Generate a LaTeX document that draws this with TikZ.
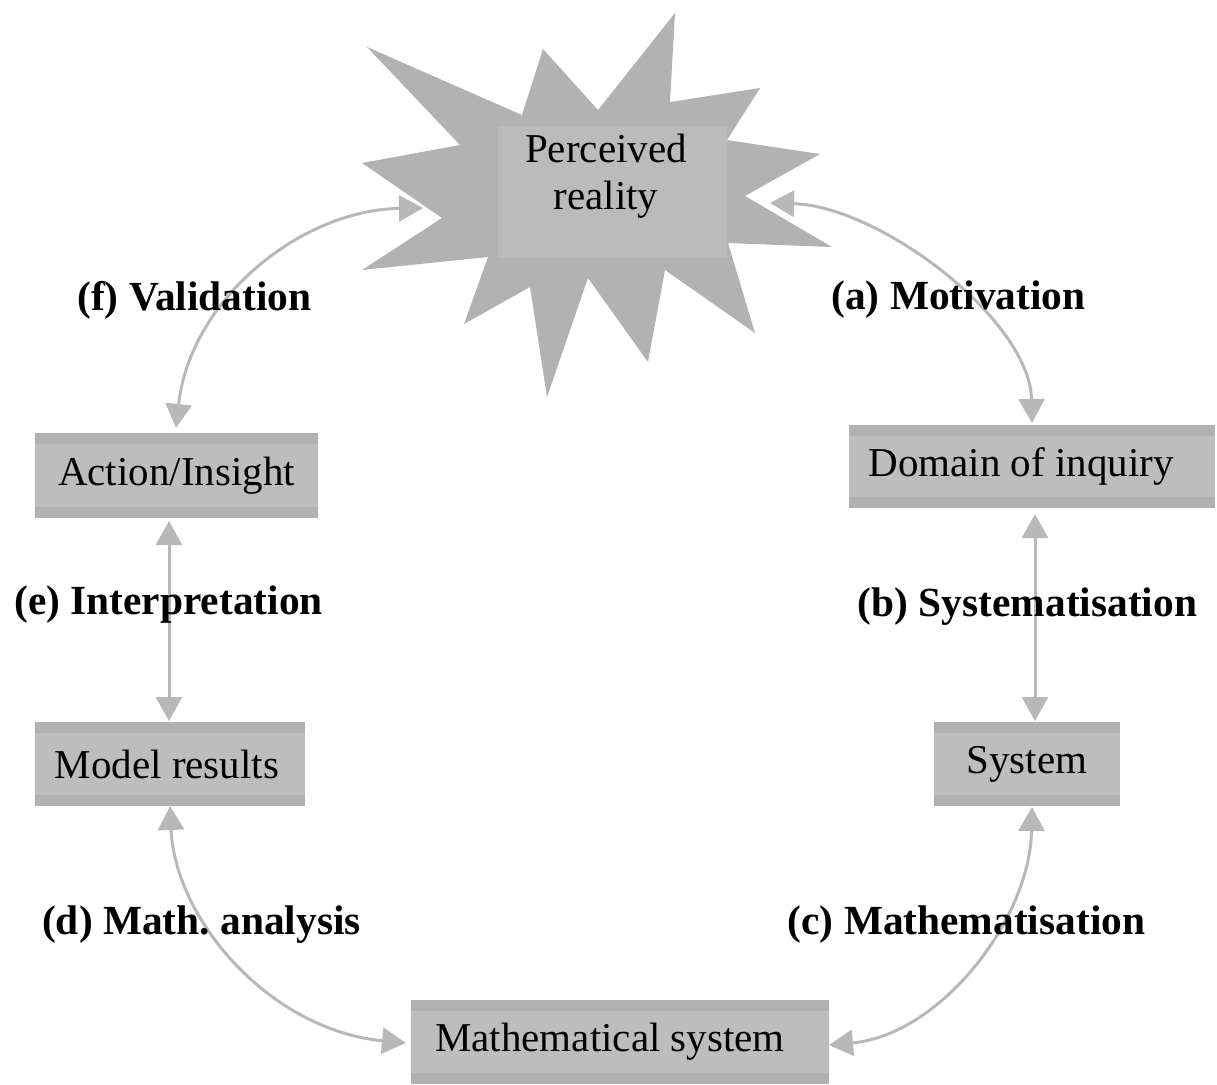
\documentclass[tikz,border=0pt]{standalone}
\usepackage{fontspec}
\setmainfont{Liberation Serif}
\usetikzlibrary{arrows.meta}
\frenchspacing
\definecolor{burst}{HTML}{B2B2B2}
\definecolor{perbox}{HTML}{BBBBBB}
\definecolor{boxmid}{HTML}{BDBDBD}
\definecolor{boxband}{HTML}{B1B1B1}
\definecolor{arrowgray}{HTML}{B8B8B8}
\tikzset{
  boxnode/.style={fill=boxmid, inner sep=0pt, font=\fontsize{20.5}{24}\selectfont,
    path picture={
      \fill[boxband] (path picture bounding box.north west) rectangle ([yshift=-5.5pt]path picture bounding box.north east);
      \fill[boxband] (path picture bounding box.south west) rectangle ([yshift=5.5pt]path picture bounding box.south east);
    }},
  lab/.style={font=\fontsize{20.7}{24}\selectfont\bfseries, inner sep=0pt},
  conn/.style={draw=arrowgray, line width=1.5pt,
    {Triangle[width=13pt,length=12pt]}-{Triangle[width=13pt,length=12pt]}},
}
\begin{document}
\begin{tikzpicture}[x=0.5pt,y=-0.5pt]
\useasboundingbox (0,0) rectangle (1217,1084);

% starburst
\fill[burst] (367,47) -- (460,145) -- (362,163) -- (442,218) -- (362,270) -- (488,257)
  -- (464,324) -- (530,287) -- (547,397) -- (588,278) -- (648,362) -- (665,270)
  -- (755,333) -- (728,243) -- (832,247) -- (745,196) -- (820,154) -- (727,140)
  -- (760,88) -- (670,102) -- (675,13) -- (598,110) -- (543,49) -- (522,115) -- cycle;
\node[fill=perbox, minimum width=114.5pt, minimum height=66pt, inner sep=0pt] (per) at (612.5,192) {};
\node[font=\fontsize{20.5}{23.5}\selectfont, align=center, inner sep=0pt] (pertext) at (606,176) {Perceived\\reality};

% boxes
\node[boxnode, minimum width=141.5pt, minimum height=42.5pt] (act) at (176.5,475.5) {Action/Insight};
\node[boxnode, minimum width=135pt, minimum height=42pt] (mod) at (170,764) {Model results\hspace*{3pt}};
\node[boxnode, minimum width=183pt, minimum height=41.5pt] (dom) at (1032,466.5) {Domain of inquiry\hspace*{11pt}};
\node[boxnode, minimum width=93pt, minimum height=42pt] (sys) at (1027,764) {System};
\node[boxnode, minimum width=209pt, minimum height=42pt] (mat) at (620,1042) {Mathematical system\hspace*{10pt}};

% connector end points
\coordinate (fS) at (423,208);
\coordinate (fE) at (176,428);
\coordinate (aS) at (770,203);
\coordinate (aE) at (1032,423);
\coordinate (bS) at (1035,514);
\coordinate (bE) at (1035,721);
\coordinate (cS) at (1032,807);
\coordinate (cE) at (829,1045);
\coordinate (dS) at (170,806);
\coordinate (dE) at (406,1043);
\coordinate (eS) at (169,521);
\coordinate (eE) at (169,721);

\draw[conn] (fS) .. controls (300,210) and (190,300) .. (fE);
\draw[conn] (aS) .. controls (880,206) and (1030,320) .. (aE);
\draw[conn] (bS) -- (bE);
\draw[conn] (cS) .. controls (1030,920) and (940,1035) .. (cE);
\draw[conn] (dS) .. controls (175,920) and (270,1030) .. (dE);
\draw[conn] (eS) -- (eE);

% labels
\node[lab] (lf) at (194.5,300) {(f) Validation};
\node[lab] (la) at (958.5,300) {(a) Motivation};
\node[lab] (le) at (168.5,605) {(e) Interpretation};
\node[lab] (lb) at (1027.5,607) {(b) Systematisation};
\node[lab] (ld) at (201.5,925) {(d) Math. analysis};
\node[lab] (lc) at (966.5,925) {(c) Mathematisation};
\end{tikzpicture}
\end{document}
